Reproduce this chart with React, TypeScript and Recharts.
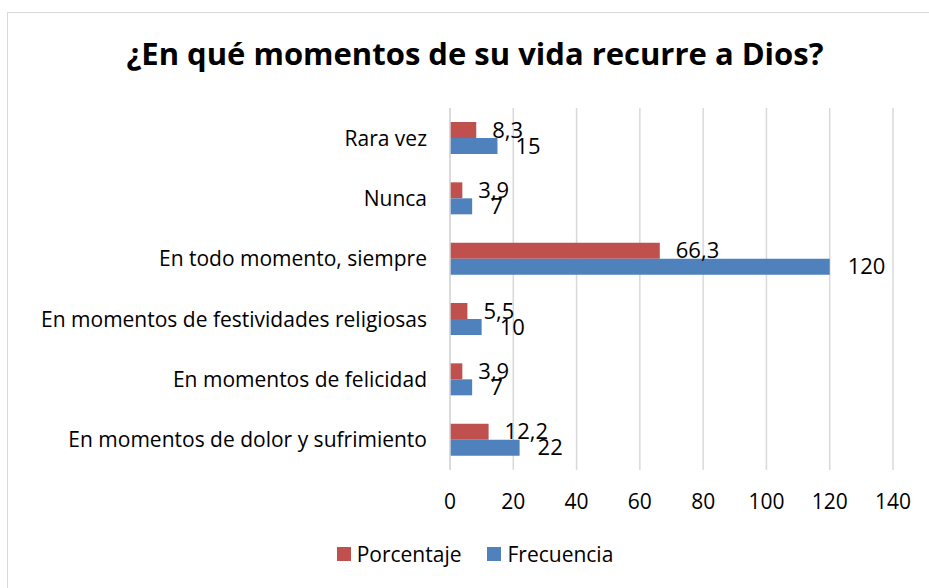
import { BarChart, Bar, XAxis, YAxis, CartesianGrid, LabelList } from 'recharts'

const categories = [
  'Rara vez',
  'Nunca',
  'En todo momento, siempre',
  'En momentos de festividades religiosas',
  'En momentos de felicidad',
  'En momentos de dolor y sufrimiento',
]
const porcentaje = [8.3, 3.9, 66.3, 5.5, 3.9, 12.2]
const frecuencia = [15, 7, 120, 10, 7, 22]
const xTicks = [0, 20, 40, 60, 80, 100, 120, 140]

const RED = '#C0504D'
const BLUE = '#4F81BD'
const FONT = '"Open Sans", "Noto Sans", sans-serif'

const data = categories.map((name, i) => ({
  name,
  porcentaje: porcentaje[i],
  frecuencia: frecuencia[i],
}))

// Excel style comma decimals
const fmt = (v: any) => String(v).replace('.', ',')

const legendItems = [
  { label: 'Porcentaje', color: RED },
  { label: 'Frecuencia', color: BLUE },
]

export default function App() {
  return (
    <div style={{ position: 'absolute', left: 0, top: 0, width: 929, height: 588, overflow: 'hidden', background: '#fff' }}>
      <div style={{ position: 'absolute', left: 7, top: 12, width: 960, height: 620, border: '1px solid #d9d9d9', boxSizing: 'border-box' }} />
      <div
        style={{
          position: 'absolute',
          top: 32,
          left: 0,
          width: 950,
          textAlign: 'center',
          fontFamily: FONT,
          fontWeight: 700,
          fontSize: 31,
          color: '#000',
          whiteSpace: 'nowrap',
        }}
      >
        ¿En qué momentos de su vida recurre a Dios?
      </div>
      <div style={{ position: 'absolute', left: 0, top: 0 }}>
        <BarChart
          width={929}
          height={588}
          data={data}
          layout="vertical"
          margin={{ top: 108, right: 36, bottom: 88, left: 0 }}
          barGap={0}
          barCategoryGap="24%"
        >
          <CartesianGrid horizontal={false} stroke="#d9d9d9" strokeWidth={1.5} />
          <XAxis
            type="number"
            domain={[0, 140]}
            ticks={xTicks}
            axisLine={false}
            tickLine={false}
            tickSize={0}
            tickMargin={24}
            height={30}
            tick={{ fill: '#000', fontSize: 21, fontFamily: FONT }}
          />
          <YAxis
            type="category"
            dataKey="name"
            width={450}
            axisLine={{ stroke: '#d9d9d9', strokeWidth: 1.5 }}
            tickLine={false}
            tickSize={0}
            tickMargin={23}
            interval={0}
            tick={{ fill: '#000', fontSize: 21, fontFamily: FONT }}
          />
          <Bar dataKey="porcentaje" name="Porcentaje" fill={RED} barSize={16} isAnimationActive={false}>
            <LabelList
              dataKey="porcentaje"
              position="right"
              offset={16}
              formatter={fmt}
              style={{ fill: '#000', fontSize: 22, fontFamily: FONT }}
            />
          </Bar>
          <Bar dataKey="frecuencia" name="Frecuencia" fill={BLUE} barSize={16} isAnimationActive={false}>
            <LabelList
              dataKey="frecuencia"
              position="right"
              offset={18}
              formatter={fmt}
              style={{ fill: '#000', fontSize: 22, fontFamily: FONT }}
            />
          </Bar>
        </BarChart>
      </div>
      <div
        style={{
          position: 'absolute',
          top: 540,
          left: 0,
          width: 950,
          display: 'flex',
          justifyContent: 'center',
          gap: 26,
          fontFamily: FONT,
          fontSize: 21,
          color: '#000',
        }}
      >
        {legendItems.map((item) => (
          <div key={item.label} style={{ display: 'flex', alignItems: 'center' }}>
            <span style={{ width: 14, height: 14, background: item.color, marginRight: 6, display: 'inline-block' }} />
            <span>{item.label}</span>
          </div>
        ))}
      </div>
    </div>
  )
}
